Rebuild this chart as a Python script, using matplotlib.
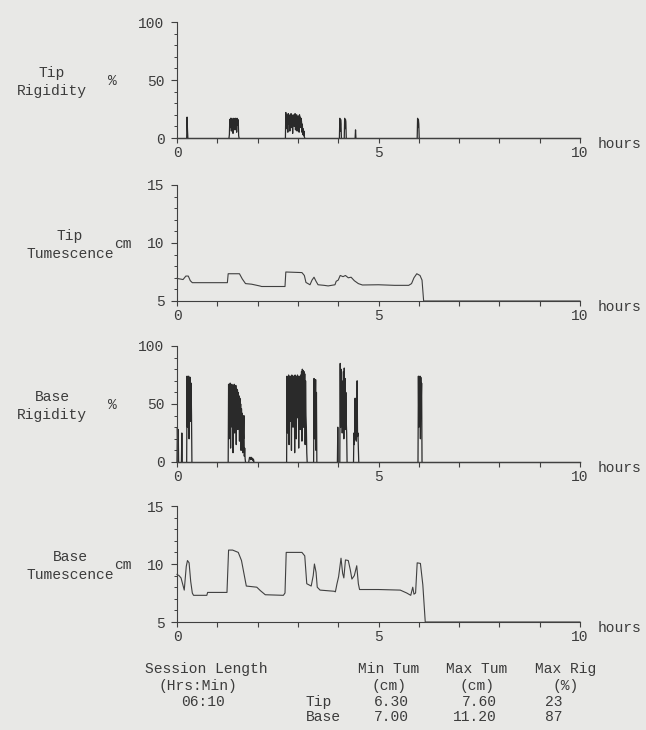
import matplotlib
matplotlib.use('Agg')
import numpy as np
import matplotlib.pyplot as plt
from matplotlib.ticker import MultipleLocator

W, H = 646, 730
BG = '#e8e8e6'
INK = '#3c3c3c'
LINE = '#404040'
FS = 10.5
STEP = 0.01  # rigidity sample spacing (hours)

plt.rcParams['font.family'] = ['Liberation Mono', 'DejaVu Sans Mono']

# ---- rigidity bursts (start hour, % values sampled every STEP) ----
tip_rig_starts = [0.24, 1.29, 2.69, 4.03, 4.15, 4.42, 5.96]
tip_rig_bursts = [
    [0, 18, 7, 0],
    [0, 3, 16, 9, 17, 14, 6, 17, 12, 16, 4, 15, 17, 10, 16, 7, 17, 13, 16, 5,
     17, 11, 16, 15, 2, 0],
    [0, 22, 8, 20, 15, 19, 5, 21, 12, 20, 18, 6, 19, 14, 21, 9, 20, 17, 4, 19,
     13, 20, 10, 18, 21, 7, 19, 15, 20, 6, 18, 12, 19, 16, 5, 20, 11, 18, 9,
     17, 14, 5, 12, 3, 8, 2, 6, 1, 0],
    [0, 17, 6, 16, 12, 0],
    [0, 17, 8, 16, 14, 0],
    [0, 7, 0],
    [0, 17, 9, 16, 12, 0],
]

base_rig_starts = [0.00, 0.11, 0.24, 1.27, 1.78, 2.72, 3.39, 3.98, 4.04, 4.38, 5.98]
base_rig_bursts = [
    [0, 30, 12, 28, 0],
    [0, 25, 0],
    [0, 74, 30, 72, 55, 74, 20, 70, 62, 73, 35, 68, 40, 0],
    [0, 67, 20, 66, 48, 68, 12, 65, 55, 67, 30, 66, 8, 64, 58, 67, 25, 65, 40,
     66, 15, 63, 52, 62, 28, 60, 45, 57, 18, 55, 38, 50, 10, 46, 30, 42, 8, 38,
     20, 40, 5, 12, 3, 0],
    [0, 2, 4, 3, 4, 2, 3, 4, 3, 2, 3, 1, 2, 0],
    [0, 74, 25, 73, 50, 75, 15, 72, 60, 74, 35, 73, 10, 75, 55, 72, 30, 74, 45,
     73, 8, 75, 62, 74, 20, 72, 50, 75, 38, 73, 12, 74, 58, 72, 28, 75, 44, 78,
     18, 80, 60, 79, 30, 78, 52, 76, 15, 70, 40, 30, 8, 0],
    [0, 72, 20, 70, 45, 71, 10, 60, 0],
    [0, 30, 0],
    [0, 85, 30, 80, 55, 70, 25, 65, 40, 78, 20, 81, 45, 72, 28, 60, 35, 25, 0],
    [0, 25, 15, 27, 55, 20, 26, 18, 27, 70, 22, 25, 12, 0],
    [0, 74, 30, 72, 55, 74, 20, 73, 50, 68, 0],
]

# ---- tumescence traces (hour, cm) ----
tip_tum_t = [0.00, 0.15, 0.22, 0.28, 0.33, 0.38, 1.25, 1.27, 1.55, 1.62, 1.70,
             1.85, 2.05, 2.10, 2.68, 2.70, 3.10, 3.16, 3.20, 3.30, 3.35, 3.40,
             3.45, 3.50, 3.65, 3.75, 3.92, 3.95, 4.00, 4.05, 4.12, 4.18, 4.25,
             4.32, 4.40, 4.50, 4.60, 5.00, 5.40, 5.75, 5.82, 5.88, 5.95, 6.03,
             6.08, 6.12, 10.0]
tip_tum_v = [6.95, 6.85, 7.15, 7.15, 6.75, 6.58, 6.58, 7.35, 7.35, 6.9, 6.5,
             6.45, 6.3, 6.25, 6.25, 7.5, 7.45, 7.2, 6.6, 6.4, 6.8, 7.05,
             6.7, 6.4, 6.35, 6.3, 6.4, 6.7, 6.8, 7.2, 7.1, 7.2, 7.0,
             7.05, 6.75, 6.5, 6.38, 6.4, 6.35, 6.35, 6.5, 7.0, 7.35, 7.2,
             6.8, 5.0, 5.0]

base_tum_t = [0.00, 0.05, 0.10, 0.18, 0.23, 0.26, 0.30, 0.34, 0.38, 0.41, 0.74,
              0.76, 1.24, 1.28, 1.38, 1.52, 1.60, 1.66, 1.72, 1.98, 2.07, 2.19,
              2.64, 2.68, 2.71, 3.10, 3.17, 3.22, 3.33, 3.38, 3.41, 3.45, 3.48,
              3.55, 3.90, 3.93, 3.97, 4.01, 4.07, 4.11, 4.14, 4.18, 4.25, 4.30,
              4.34, 4.40, 4.46, 4.50, 4.53, 5.00, 5.54, 5.70, 5.80, 5.85, 5.88,
              5.92, 5.96, 6.04, 6.10, 6.16, 10.0]
base_tum_v = [9.1, 9.0, 8.8, 7.75, 9.8, 10.3, 10.1, 8.5, 7.5, 7.3, 7.3,
              7.55, 7.55, 11.2, 11.2, 11.0, 10.3, 9.2, 8.1, 8.0, 7.7, 7.35,
              7.3, 7.5, 11.0, 11.0, 10.7, 8.3, 8.1, 9.0, 10.0, 9.3, 8.0,
              7.75, 7.65, 7.6, 8.3, 8.9, 10.5, 9.2, 8.8, 10.35, 10.3, 9.5,
              8.7, 9.0, 9.85, 8.3, 7.8, 7.8, 7.75, 7.5, 7.3, 8.0, 7.4,
              7.5, 10.1, 10.05, 8.2, 5.0, 5.0]

panel_names = [('Tip\nRigidity', '%'), ('Tip\nTumescence', 'cm'),
               ('Base\nRigidity', '%'), ('Base\nTumescence', 'cm')]

# summary table
table_heads = ['Min Tum', 'Max Tum', 'Max Rig']
table_units = ['(cm)', '(cm)', '(%)']
row_names = ['Tip', 'Base']
min_tum = ['6.30', '7.00']
max_tum = ['7.60', '11.20']
max_rig = ['23', '87']
session_length = '06:10'


def fx(x):
    return x / W


def fy(y):
    return 1 - y / H


fig = plt.figure(figsize=(W / 100, H / 100), dpi=100, facecolor=BG)

# pixel rows of each panel's bottom axis line
axis_rows = [138, 301, 462, 622]
panel_h = 116
left, right = 177, 580

axes = []
for i, bottom in enumerate(axis_rows):
    ax = fig.add_axes([fx(left), fy(bottom), (right - left) / W, panel_h / H])
    ax.set_facecolor('none')
    for s in ['top', 'right']:
        ax.spines[s].set_visible(False)
    for s in ['left', 'bottom']:
        ax.spines[s].set_color(LINE)
        ax.spines[s].set_linewidth(0.8)
    ax.set_xlim(0, 10)
    ax.set_xticks([0, 5, 10])
    ax.xaxis.set_minor_locator(MultipleLocator(1))
    rig = i % 2 == 0
    if rig:
        ax.set_ylim(0, 100)
        ax.set_yticks([0, 50, 100])
        ax.yaxis.set_minor_locator(MultipleLocator(10))
    else:
        ax.set_ylim(5, 15)
        ax.set_yticks([5, 10, 15])
        ax.yaxis.set_minor_locator(MultipleLocator(1))
    ax.tick_params(axis='y', which='major', direction='out', length=4,
                   width=0.8, pad=5, labelsize=FS, colors=LINE, labelcolor=INK)
    ax.tick_params(axis='y', which='minor', direction='out', length=2,
                   width=0.7, colors=LINE)
    ax.tick_params(axis='x', which='both', direction='out', length=3.5,
                   width=0.8, pad=2, labelsize=FS, colors=LINE, labelcolor=INK)

    name, unit = panel_names[i]
    mid = bottom - panel_h / 2 + 2
    fig.text(fx(52 if rig else 70), fy(mid), name, ha='center', va='center',
             fontsize=FS, color=INK, linespacing=1.3)
    fig.text(fx(112 if rig else 123), fy(mid - 1), unit, ha='center',
             va='center', fontsize=FS, color=INK)
    fig.text(fx(598), fy(bottom + 6), 'hours', ha='left', va='center',
             fontsize=FS, color=INK)
    axes.append(ax)


def draw_rigidity(ax, starts, bursts):
    ax.plot([0, 10], [0, 0], color=LINE, lw=1.0, clip_on=False)
    for start, vals in zip(starts, bursts):
        t = start + STEP * np.arange(len(vals))
        ax.plot(t, vals, color='#2a2a2a', lw=0.9, clip_on=False)


draw_rigidity(axes[0], tip_rig_starts, tip_rig_bursts)
draw_rigidity(axes[2], base_rig_starts, base_rig_bursts)
axes[1].plot(tip_tum_t, tip_tum_v, color=LINE, lw=0.8, clip_on=False)
axes[3].plot(base_tum_t, base_tum_v, color=LINE, lw=0.8, clip_on=False)

# ---- summary block ----
rows = [669, 686, 702, 717]
fig.text(fx(206), fy(rows[0]), 'Session Length', ha='center', va='center',
         fontsize=FS, color=INK)
fig.text(fx(198), fy(rows[1]), '(Hrs:Min)', ha='center', va='center',
         fontsize=FS, color=INK)
fig.text(fx(203), fy(rows[2]), session_length, ha='center', va='center',
         fontsize=FS, color=INK)

for x, head, unit in zip([389, 477, 566], table_heads, table_units):
    fig.text(fx(x), fy(rows[0]), head, ha='center', va='center', fontsize=FS,
             color=INK)
    fig.text(fx(x), fy(rows[1]), unit, ha='center', va='center', fontsize=FS,
             color=INK)

for j, rname in enumerate(row_names):
    y = fy(rows[2 + j])
    fig.text(fx(306), y, rname, ha='left', va='center', fontsize=FS, color=INK)
    fig.text(fx(409), y, min_tum[j], ha='right', va='center', fontsize=FS,
             color=INK)
    fig.text(fx(497), y, max_tum[j], ha='right', va='center', fontsize=FS,
             color=INK)
    fig.text(fx(545), y, max_rig[j], ha='left', va='center', fontsize=FS,
             color=INK)

fig.savefig('out.png', dpi=100, facecolor=BG)
